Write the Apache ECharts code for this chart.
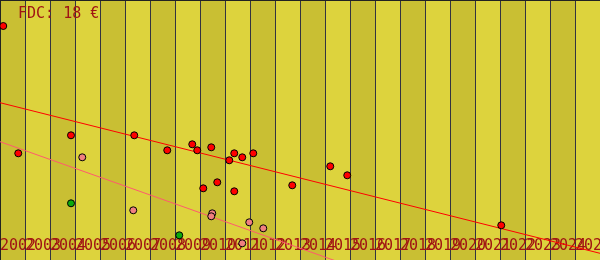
<!DOCTYPE html>
<html>
<head>
<meta charset="utf-8">
<script src="https://cdn.jsdelivr.net/npm/echarts@6/dist/echarts.min.js"></script>
<style>html,body{margin:0;padding:0;background:#ddd33d;overflow:hidden;}#c{width:600px;height:260px;}</style>
</head>
<body>
<div id="c"></div>
<script>
// --- data (x = year, y = price in €) ---
const titleText = 'FDC: 18 €';
const yearTicks = [2002,2003,2004,2005,2006,2007,2008,2009,2010,2011,2012,2013,2014,2015,2016,2017,2018,2019,2020,2021,2022,2023,2024,2025];
const redPoints = [
  [2002.13, 23.4], [2002.73, 10.67], [2004.84, 12.47], [2007.37, 12.47],
  [2008.69, 10.97], [2009.69, 11.57], [2009.89, 10.97], [2010.45, 11.27],
  [2010.13, 7.17], [2010.69, 7.77], [2011.17, 9.97], [2011.37, 10.67],
  [2011.37, 6.87], [2011.69, 10.27], [2012.13, 10.67], [2013.69, 7.47],
  [2015.21, 9.37], [2015.89, 8.47], [2022.05, 3.47]
];
const pinkPoints = [
  [2005.29, 10.27], [2007.33, 4.97], [2010.49, 4.67], [2010.45, 4.37],
  [2011.69, 1.67], [2011.97, 3.77], [2012.53, 3.17]
];
const greenPoints = [
  [2004.84, 5.67], [2009.17, 2.47]
];
const redTrend = [[2002, 15.73], [2026, 0.67]];
const pinkTrend = [[2002, 11.83], [2026, -9.47]];

const labelColor = '#a01414';
const labelBase = {
  inside: true, margin: 14, align: 'left', verticalAlign: 'middle',
  fontFamily: "'Liberation Sans Narrow', 'DejaVu Sans Mono', monospace",
  fontSize: 15, color: labelColor
};
const firstYear = yearTicks[0];
const chart = echarts.init(document.getElementById('c'), null, {renderer: 'canvas'});
chart.setOption({
  backgroundColor: '#ddd33d',
  animation: false,
  title: {
    text: titleText, left: 13, top: 2,
    textStyle: {fontFamily: 'DejaVu Sans Mono', fontSize: 15, fontWeight: 'normal', color: labelColor}
  },
  grid: {left: 0, right: 0, top: 0, bottom: 0, containLabel: false, outerBoundsMode: 'none'},
  xAxis: [{
    type: 'value', position: 'bottom', min: 2002, max: 2026, interval: 1,
    axisLine: {show: true, lineStyle: {color: '#222', width: 1}},
    axisTick: {show: false},
    splitLine: {show: true, lineStyle: {color: '#333340', width: 1}},
    splitArea: {show: true, areaStyle: {color: ['#c9bf33', '#ddd33d']}},
    axisLabel: Object.assign({}, labelBase, {
      showMinLabel: false, showMaxLabel: false,
      formatter: v => (yearTicks.includes(v) && v !== firstYear) ? String(v) : ''
    })
  }, {
    type: 'value', position: 'top', min: 2002, max: 2026, interval: 1,
    axisLine: {show: true, lineStyle: {color: '#222', width: 1}},
    axisTick: {show: false}, axisLabel: {show: false}, splitLine: {show: false}
  }, {
    type: 'value', position: 'bottom', offset: 0, min: 2002, max: 2026, interval: 1,
    axisLine: {show: false}, axisTick: {show: false}, splitLine: {show: false},
    axisLabel: Object.assign({}, labelBase, {
      showMinLabel: true, showMaxLabel: false,
      formatter: v => v === firstYear ? String(v) : ''
    })
  }],
  yAxis: {
    type: 'value', min: 0, max: 26,
    axisLine: {show: true, lineStyle: {color: '#222', width: 1}},
    axisTick: {show: false}, axisLabel: {show: false}, splitLine: {show: false}
  },
  series: [
    {type: 'line', data: redTrend, symbol: 'none', lineStyle: {color: '#ff0000', width: 1}, clip: true, z: 2},
    {type: 'line', data: pinkTrend, symbol: 'none', lineStyle: {color: '#ff5a6e', width: 1}, clip: true, z: 2},
    {type: 'scatter', data: redPoints, symbolSize: 7, itemStyle: {color: '#ff0000', borderColor: '#000', borderWidth: 1, opacity: 1}, z: 3},
    {type: 'scatter', data: pinkPoints, symbolSize: 7, itemStyle: {color: '#f08080', borderColor: '#000', borderWidth: 1, opacity: 1}, z: 3},
    {type: 'scatter', data: greenPoints, symbolSize: 7, itemStyle: {color: '#0caa0c', borderColor: '#000', borderWidth: 1, opacity: 1}, z: 3}
  ]
});
</script>
</body>
</html>
